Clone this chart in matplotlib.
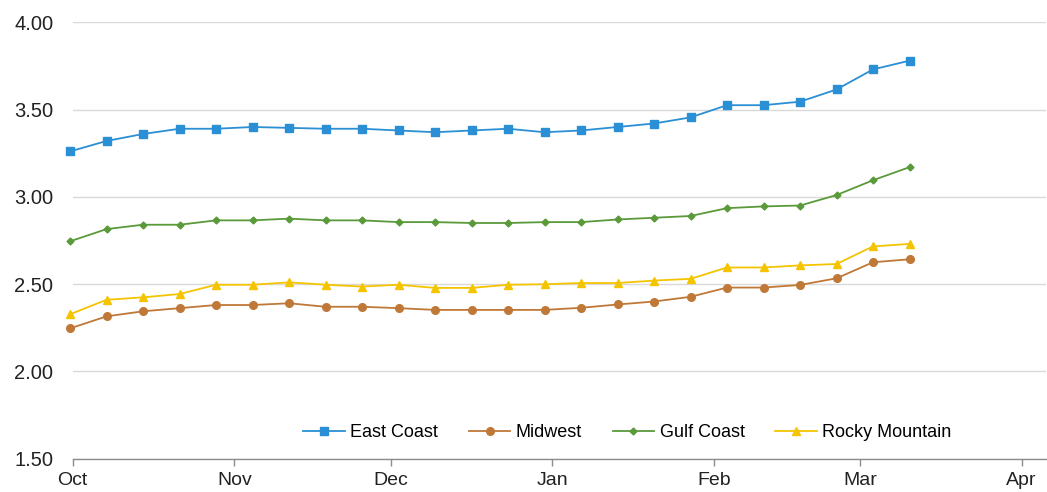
import matplotlib
matplotlib.use("Agg")
import matplotlib.pyplot as plt
import matplotlib.dates as mdates
import pandas as pd

plt.rcParams["font.family"] = ["Liberation Sans", "DejaVu Sans"]

# weekly retail prices, $/gal
dates = pd.date_range("2013-09-30 12:00", periods=24, freq="7D")
east_coast = [3.26, 3.32, 3.36, 3.39, 3.39, 3.40, 3.395, 3.39, 3.39, 3.38, 3.37, 3.38,
              3.39, 3.37, 3.38, 3.40, 3.42, 3.455, 3.525, 3.525, 3.545, 3.615, 3.73, 3.78]
midwest = [2.246, 2.315, 2.344, 2.362, 2.38, 2.38, 2.39, 2.37, 2.37, 2.362, 2.352, 2.352,
           2.352, 2.352, 2.364, 2.383, 2.40, 2.427, 2.48, 2.48, 2.495, 2.533, 2.625, 2.642]
gulf_coast = [2.745, 2.815, 2.84, 2.84, 2.865, 2.865, 2.875, 2.865, 2.865, 2.855, 2.855, 2.85,
              2.85, 2.855, 2.855, 2.87, 2.88, 2.89, 2.935, 2.945, 2.95, 3.01, 3.095, 3.17]
rocky_mountain = [2.327, 2.41, 2.424, 2.443, 2.496, 2.496, 2.51, 2.496, 2.486, 2.496, 2.478, 2.478,
                  2.496, 2.499, 2.506, 2.506, 2.52, 2.53, 2.595, 2.595, 2.607, 2.615, 2.716, 2.73]

y_ticks = [1.50, 2.00, 2.50, 3.00, 3.50, 4.00]

fig = plt.figure(figsize=(10.47, 4.92), dpi=100)
ax = fig.add_axes([0.0694, 0.0679, 0.9296, 0.8868])

series = [
    ("East Coast", east_coast, "#2a8fd4", "s", 5.5),
    ("Midwest", midwest, "#c07838", "o", 5.5),
    ("Gulf Coast", gulf_coast, "#5a9a3a", "D", 3.5),
    ("Rocky Mountain", rocky_mountain, "#f5c400", "^", 6),
]
for name, vals, col, mk, ms in series:
    ax.plot(dates, vals, color=col, lw=1.3, marker=mk, ms=ms,
            markerfacecolor=col, markeredgecolor=col, label=name,
            zorder=3, clip_on=False)

ax.set_ylim(1.5, 4.0)
ax.set_yticks(y_ticks)
ax.set_yticklabels([f"{v:.2f}" for v in y_ticks])
ax.set_xlim(pd.Timestamp("2013-10-01"), pd.Timestamp("2014-04-05 16:00"))
ax.xaxis.set_major_locator(mdates.MonthLocator())
ax.xaxis.set_major_formatter(mdates.DateFormatter("%b"))

ax.grid(axis="y", color="#d9d9d9", lw=1.0, zorder=0)
ax.set_axisbelow(True)
for s in ["left", "right", "top"]:
    ax.spines[s].set_visible(False)
ax.spines["bottom"].set_color("#8c8c8c")
ax.spines["bottom"].set_linewidth(1.0)
ax.spines["bottom"].set_zorder(4)

ax.tick_params(axis="y", length=0, pad=14, labelsize=14.5, labelcolor="#222222")
ax.tick_params(axis="x", length=5, width=1, color="#8c8c8c", pad=5,
               labelsize=14, labelcolor="#222222")

ax.legend(loc="center", bbox_to_anchor=(0.57, 0.059), ncol=4, frameon=False,
          fontsize=13, handlelength=2.3, handletextpad=0.3, columnspacing=1.7,
          borderaxespad=0)

fig.savefig("out.png", dpi=100)
